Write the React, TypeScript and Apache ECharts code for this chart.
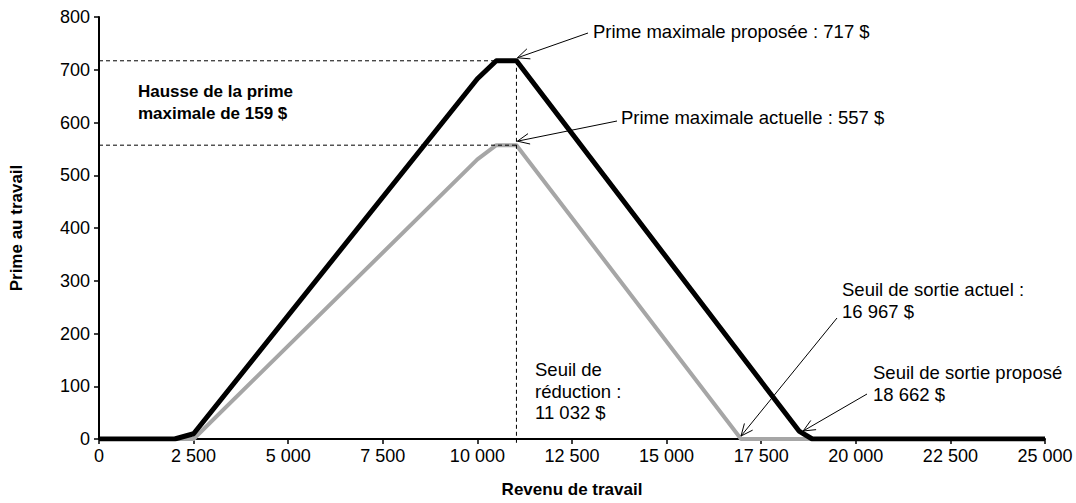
import React, { useEffect, useRef } from "react";
import * as echarts from "echarts";

// Revenu de travail ($) and prime au travail ($)
const proposedIncome = [0, 2000, 2500, 10000, 10500, 11032, 18500, 18850, 25000];
const proposedPrime = [0, 0, 10, 683, 717, 717, 15, 0, 0];
const currentIncome = [0, 2500, 10000, 10500, 11032, 16967, 25000];
const currentPrime = [0, 0, 530, 557, 557, 0, 0];

const maxProposed = 717;
const maxCurrent = 557;
const increase = 159;
const reductionThreshold = 11032;
const exitCurrent = 16967;
const exitProposed = 18662;

const xMin = 0;
const xMax = 25000;
const xInterval = 2500;
const yMin = 0;
const yMax = 800;
const yInterval = 100;

const FONT = "'Liberation Sans', Arial, sans-serif";

const fmt = (v: number) =>
  String(Math.round(v)).replace(/\B(?=(\d{3})+(?!\d))/g, " ");

function arrow(x1: number, y1: number, x2: number, y2: number) {
  const a = Math.atan2(y2 - y1, x2 - x1);
  const L = 13;
  const s = 0.42;
  return [
    {
      type: "line",
      shape: { x1, y1, x2, y2 },
      style: { stroke: "#000", lineWidth: 1 },
      silent: true,
      z: 20,
    },
    {
      type: "polyline",
      shape: {
        points: [
          [x2 - L * Math.cos(a - s), y2 - L * Math.sin(a - s)],
          [x2, y2],
          [x2 - L * Math.cos(a + s), y2 - L * Math.sin(a + s)],
        ],
      },
      style: { stroke: "#000", lineWidth: 1, fill: null },
      silent: true,
      z: 20,
    },
  ];
}

function txt(text: string, x: number, y: number, bold = false, lh = 21.5, size = 18.5) {
  return {
    type: "text",
    x,
    y,
    silent: true,
    z: 20,
    style: {
      text,
      fill: "#000",
      fontFamily: FONT,
      fontSize: size,
      fontWeight: bold ? "bold" : "normal",
      lineHeight: lh,
      verticalAlign: "top",
      align: "left",
    },
  };
}

export default function App() {
  const ref = useRef<HTMLDivElement>(null);
  useEffect(() => {
    if (!ref.current) return;
    document.body.style.margin = "0";
    document.body.style.overflow = "hidden";
    document.documentElement.style.overflow = "hidden";
    const chart = echarts.init(ref.current, null, { renderer: "svg" });
    const option: any = {
      animation: false,
      backgroundColor: "#fff",
      grid: { left: 98, right: 31, top: 17, bottom: 58, containLabel: false },
      xAxis: {
        type: "value",
        min: xMin,
        max: xMax,
        interval: xInterval,
        name: "Revenu de travail",
        nameLocation: "middle",
        nameGap: 42,
        nameTextStyle: { fontFamily: FONT, fontSize: 17, fontWeight: "bold", color: "#000" },
        axisLine: { show: true, lineStyle: { color: "#000", width: 2 } },
        axisTick: { show: true, length: 5, lineStyle: { color: "#000", width: 1.5 } },
        splitLine: { show: false },
        axisLabel: {
          color: "#000",
          fontFamily: FONT,
          fontSize: 18,
          margin: 8,
          formatter: (v: number) => fmt(v),
        },
      },
      yAxis: {
        type: "value",
        min: yMin,
        max: yMax,
        interval: yInterval,
        name: "Prime au travail",
        nameLocation: "middle",
        nameRotate: 90,
        nameGap: 74,
        nameTextStyle: { fontFamily: FONT, fontSize: 17, fontWeight: "bold", color: "#000" },
        axisLine: { show: true, lineStyle: { color: "#000", width: 2 } },
        axisTick: { show: true, length: 5, lineStyle: { color: "#000", width: 1.5 } },
        splitLine: { show: false },
        axisLabel: { color: "#000", fontFamily: FONT, fontSize: 18, margin: 9 },
      },
      series: [
        {
          type: "line",
          name: "Actuel",
          data: currentIncome.map((x, i) => [x, currentPrime[i]]),
          showSymbol: false,
          symbol: "none",
          lineStyle: { color: "#a6a6a6", width: 4, join: "round" },
          z: 2,
        },
        {
          type: "line",
          name: "Proposé",
          data: proposedIncome.map((x, i) => [x, proposedPrime[i]]),
          showSymbol: false,
          symbol: "none",
          lineStyle: { color: "#000", width: 5, join: "round" },
          z: 3,
        },
      ],
    };
    chart.setOption(option);

    const p = (x: number, y: number) => chart.convertToPixel({ gridIndex: 0 }, [x, y]) as number[];
    const peakP = p(reductionThreshold, maxProposed);
    const peakC = p(reductionThreshold, maxCurrent);
    const y0 = p(0, maxProposed);
    const y0c = p(0, maxCurrent);
    const base = p(reductionThreshold, 0);
    const exitC = p(exitCurrent, 0);
    const exitP = p(exitProposed, 0);

    const dash = { stroke: "#000", lineWidth: 1, lineDash: [4, 3] };
    const graphic: any[] = [
      { type: "line", silent: true, z: 10, shape: { x1: y0[0], y1: peakP[1], x2: peakP[0], y2: peakP[1] }, style: dash },
      { type: "line", silent: true, z: 10, shape: { x1: y0c[0], y1: peakC[1], x2: peakC[0], y2: peakC[1] }, style: dash },
      { type: "line", silent: true, z: 10, shape: { x1: base[0], y1: peakP[1], x2: base[0], y2: base[1] + 5 }, style: dash },
      ...arrow(588, 33, peakP[0] + 1, peakP[1] - 3),
      ...arrow(617, 121, peakC[0] + 1, peakC[1] - 4),
      ...arrow(837, 318, exitC[0], exitC[1] - 3),
      ...arrow(867, 394, exitP[0] - 2, exitP[1] - 8),
      txt(`Prime maximale proposée : ${fmt(maxProposed)} $`, 593, 21),
      txt(`Prime maximale actuelle : ${fmt(maxCurrent)} $`, 621, 107),
      txt(`Hausse de la prime\nmaximale de ${fmt(increase)} $`, 138, 80, true, 22, 17),
      txt(`Seuil de\nréduction :\n${fmt(reductionThreshold)} $`, 535, 359),
      txt(`Seuil de sortie actuel :\n${fmt(exitCurrent)} $`, 842, 279),
      txt(`Seuil de sortie proposé\n${fmt(exitProposed)} $`, 873, 362),
    ];
    chart.setOption({ graphic });

    return () => chart.dispose();
  }, []);
  return <div ref={ref} style={{ width: 1076, height: 503 }} />;
}
